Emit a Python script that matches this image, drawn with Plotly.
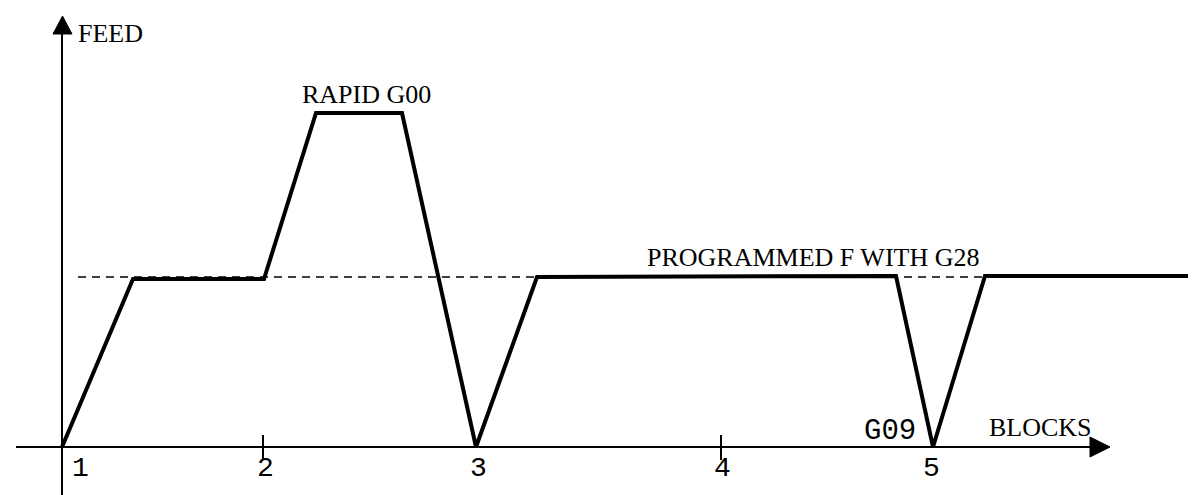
import plotly.graph_objects as go

# ---- data (x in block-axis units, feed in feed-axis units) ----
PATH_X = [54, 125, 256, 308, 394, 468, 529, 888, 925, 977, 1196]
PATH_FEED = [0, 168, 168, 334, 334, 0, 170, 171, 0, 171, 171]

PROGRAMMED_X = [70, 977]
PROGRAMMED_FEED = [170, 170]

BLOCK_X = [54, 255, 468, 713, 925]
BLOCK_LABELS = ["1", "2", "3", "4", "5"]
TICKED_BLOCKS = [255, 713]

W, H = 1196, 495
BASE = 439  # pixel row of the feed = 0 axis


def fy(py):
    """pixel row -> feed units"""
    return BASE - py


fig = go.Figure()

fig.add_trace(go.Scatter(x=PROGRAMMED_X, y=PROGRAMMED_FEED, mode="lines",
                         line=dict(color="black", width=1.5, dash="8px,6px"),
                         hoverinfo="skip", showlegend=False))
fig.add_trace(go.Scatter(x=PATH_X, y=PATH_FEED, mode="lines",
                         line=dict(color="black", width=4),
                         hoverinfo="skip", showlegend=False))

shapes = []
# x axis
shapes.append(dict(type="line", x0=8, x1=1085, y0=0, y1=0,
                   line=dict(color="black", width=2)))
shapes.append(dict(type="path",
                   path=f"M 1082 {fy(429)} L 1102 {fy(439)} L 1082 {fy(449)} Z",
                   fillcolor="black", line=dict(color="black", width=1)))
# y axis
shapes.append(dict(type="line", x0=54, x1=54, y0=fy(494), y1=fy(23),
                   line=dict(color="black", width=2)))
shapes.append(dict(type="path",
                   path=f"M 45 {fy(26)} L 54.5 {fy(8)} L 64 {fy(26)} Z",
                   fillcolor="black", line=dict(color="black", width=1)))
for tx in TICKED_BLOCKS:
    shapes.append(dict(type="line", x0=tx, x1=tx, y0=fy(427), y1=fy(452),
                       line=dict(color="black", width=2)))

mono = dict(family="Liberation Mono, Courier New, monospace", size=28, color="black")
mono_g = dict(family="Liberation Mono, Courier New, monospace", size=29, color="black")
serif = dict(family="Liberation Serif, Times New Roman, serif", size=26, color="black")

annotations = []
label_offsets = [18, 2, 2, 1, -2]
for bx, lab, off in zip(BLOCK_X, BLOCK_LABELS, label_offsets):
    annotations.append(dict(x=bx + off, y=fy(460), text=lab, showarrow=False,
                            font=mono, xanchor="center", yanchor="middle"))

annotations += [
    dict(x=102, y=fy(25), text="FEED", font=serif),
    dict(x=358, y=fy(86), text="RAPID G00", font=serif),
    dict(x=805, y=fy(249), text="PROGRAMMED F WITH G28", font=serif),
    dict(x=1032, y=fy(419), text="BLOCKS", font=serif),
    dict(x=882, y=fy(423), text="G09", font=mono_g),
]
for a in annotations:
    a.setdefault("showarrow", False)
    a.setdefault("xanchor", "center")
    a.setdefault("yanchor", "middle")

fig.update_layout(
    width=W, height=H,
    margin=dict(l=0, r=0, t=0, b=0),
    paper_bgcolor="white", plot_bgcolor="white",
    xaxis=dict(range=[0, W], visible=False, fixedrange=True),
    yaxis=dict(range=[fy(H), fy(0)], visible=False, fixedrange=True),
    shapes=shapes, annotations=annotations,
    showlegend=False,
)

fig.write_html("out.html")
